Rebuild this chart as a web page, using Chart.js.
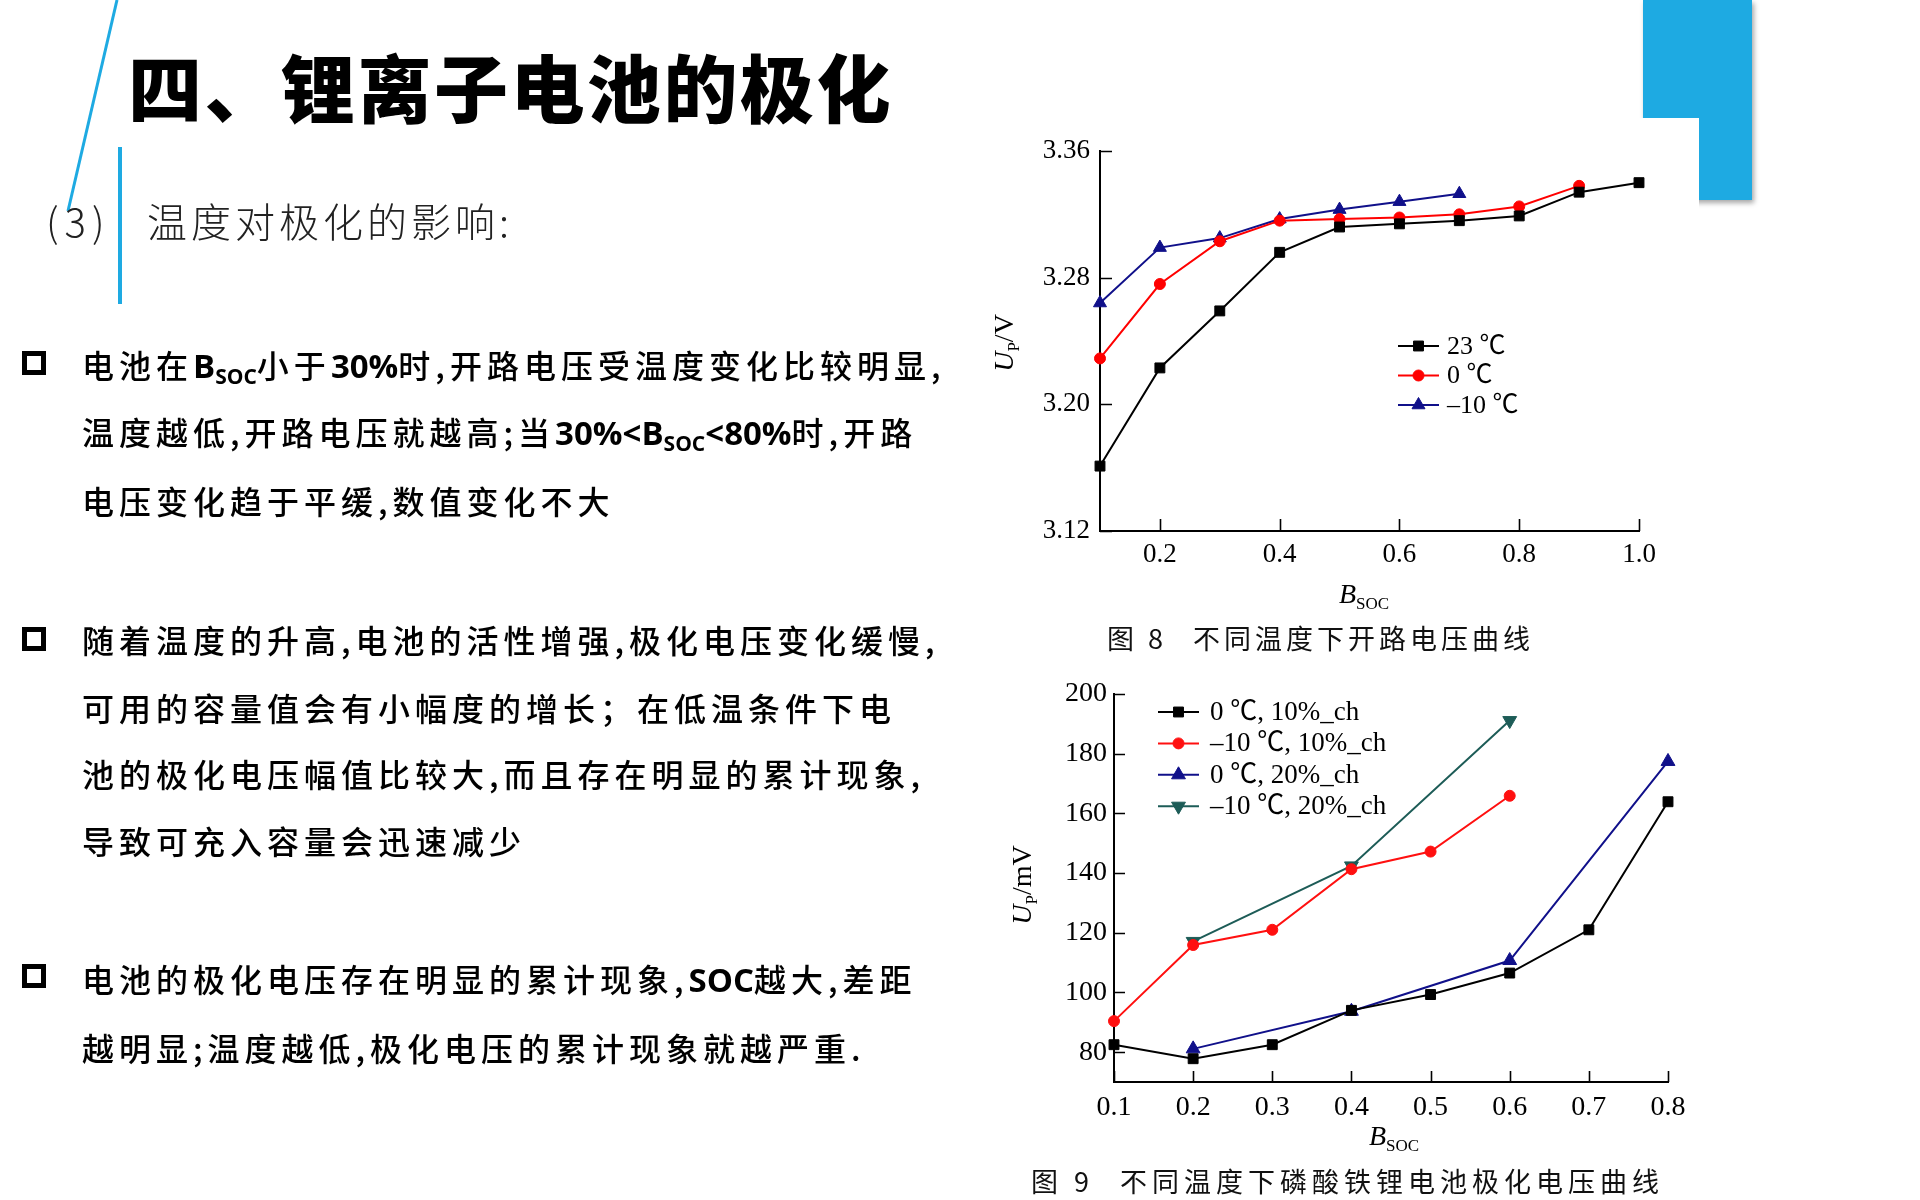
<!DOCTYPE html>
<html><head><meta charset="utf-8">
<script src="https://cdn.jsdelivr.net/npm/chart.js@4.4.1/dist/chart.umd.min.js"></script>
<style>
html,body{margin:0;padding:0;background:#fff;}
body{width:1920px;height:1200px;position:relative;overflow:hidden;font-family:"Noto Sans CJK SC",sans-serif;color:#000;}
.abs{position:absolute;white-space:nowrap;}
#blue{position:absolute;left:1643px;top:0;width:109px;height:200px;background:#1eaae2;box-shadow:2px 3px 5px rgba(0,0,0,0.35);}
canvas{position:absolute;background:#fff;}
#c1{left:1000px;top:118px;}
#c2{left:1000px;top:660px;}
.title{left:128px;top:85px;transform:translateY(-50%);font-size:74px;font-weight:900;letter-spacing:2.5px;line-height:80px;}
.sub{top:220px;transform:translateY(-50%);font-size:40px;font-weight:300;color:#222;line-height:48px;}
.box{position:absolute;left:22px;width:14px;height:14px;border:5px solid #000;background:#fff;}
.line{left:82px;font-size:32px;font-weight:500;letter-spacing:5px;line-height:40px;transform:translateY(-50%);}
.line b{font-family:"Open Sans","Lato",sans-serif;font-weight:700;letter-spacing:0;font-size:33px;}
.line b sub{font-size:21px;vertical-align:-6px;line-height:0;}
.serif{font-family:"Liberation Serif","Noto Sans CJK SC",serif;font-size:28px;line-height:32px;transform:translate(-50%,-50%);}
.serif sub{font-size:17px;vertical-align:-6px;line-height:0;}
.rot{transform:translate(-50%,-50%) rotate(-90deg);}
.cap{font-size:27px;letter-spacing:4px;line-height:34px;transform:translateY(-50%);color:#111;}
svg{position:absolute;left:0;top:0;}
</style>
</head>
<body>
<div id="blue"></div>
<canvas id="c1" width="699" height="462"></canvas>
<canvas id="c2" width="720" height="480"></canvas>

<svg width="1920" height="1200">
  <line x1="117" y1="0" x2="68" y2="211" stroke="#1eaae2" stroke-width="3"/>
  <line x1="120" y1="147" x2="120" y2="304" stroke="#1eaae2" stroke-width="4"/>
</svg>

<div class="abs title">四、锂离子电池的极化</div>
<div class="abs sub" style="left:46px;letter-spacing:6px;">(3)</div>
<div class="abs sub" style="left:147px;letter-spacing:4px;">温度对极化的影响:</div>

<div class="box" style="top:351px;"></div>
<div class="abs line" style="top:365px;">电池在<b>B<sub>SOC</sub></b>小于<b>30%</b>时,开路电压受温度变化比较明显,</div>
<div class="abs line" style="top:432px;">温度越低,开路电压就越高;当<b>30%&lt;B<sub>SOC</sub>&lt;80%</b>时,开路</div>
<div class="abs line" style="top:500px;">电压变化趋于平缓,数值变化不大</div>

<div class="box" style="top:627px;"></div>
<div class="abs line" style="top:639px;">随着温度的升高,电池的活性增强,极化电压变化缓慢,</div>
<div class="abs line" style="top:707px;">可用的容量值会有小幅度的增长；在低温条件下电</div>
<div class="abs line" style="top:773px;">池的极化电压幅值比较大,而且存在明显的累计现象,</div>
<div class="abs line" style="top:840px;">导致可充入容量会迅速减少</div>

<div class="box" style="top:964px;"></div>
<div class="abs line" style="top:979px;">电池的极化电压存在明显的累计现象,<b>SOC</b>越大,差距</div>
<div class="abs line" style="top:1047px;">越明显;温度越低,极化电压的累计现象就越严重.</div>

<!-- chart 1 texts -->
<div class="abs serif rot" style="left:1004px;top:343px;"><i>U</i><sub>P</sub>/V</div>
<div class="abs serif" style="left:1364px;top:594px;"><i>B</i><sub>SOC</sub></div>
<div class="abs cap" style="left:1107px;top:638px;">图 8</div>
<div class="abs cap" style="left:1193px;top:638px;">不同温度下开路电压曲线</div>

<!-- chart 2 texts -->
<div class="abs serif rot" style="left:1022px;top:885px;"><i>U</i><sub>P</sub>/mV</div>
<div class="abs serif" style="left:1394px;top:1136px;"><i>B</i><sub>SOC</sub></div>
<div class="abs cap" style="left:1031px;top:1181px;letter-spacing:5px;">图 9</div>
<div class="abs cap" style="left:1120px;top:1181px;letter-spacing:5px;">不同温度下磷酸铁锂电池极化电压曲线</div>

<script>
// ---------- DATA: chart 1 (open-circuit voltage) ----------
const soc1 = [0.1, 0.2, 0.3, 0.4, 0.5, 0.6, 0.7, 0.8, 0.9, 1.0];
const ocv23 = [3.161, 3.223, 3.259, 3.296, 3.312, 3.314, 3.316, 3.319, 3.334, 3.340];
const ocv0 = [3.229, 3.276, 3.303, 3.316, 3.317, 3.318, 3.320, 3.325, 3.338];
const ocvM10 = [3.264, 3.299, 3.305, 3.317, 3.323, 3.328, 3.333];
const names1 = ['23 ℃', '0 ℃', '\u201310 ℃'];
const xTicks1 = [0.2, 0.4, 0.6, 0.8, 1.0];
const yTicks1 = [3.12, 3.20, 3.28, 3.36];

// ---------- DATA: chart 2 (polarization voltage) ----------
const soc2 = [0.1, 0.2, 0.3, 0.4, 0.5, 0.6, 0.7, 0.8];
const up0c10 = [82.5, 77.8, 82.5, 94.0, 99.3, 106.5, 121.0, 163.9];
const upM10c10 = [90.4, 115.9, 121.0, 141.3, 147.2, 165.9];
const soc2b = [0.2, 0.4, 0.6, 0.8];
const up0c20 = [81.1, 93.7, 110.7, 177.4];
const soc2c = [0.2, 0.4, 0.6];
const upM10c20 = [117.1, 142.4, 191.1];
const names2 = ['0 ℃, 10%_ch', '\u201310 ℃, 10%_ch', '0 ℃, 20%_ch', '\u201310 ℃, 20%_ch'];
const xTicks2 = [0.1, 0.2, 0.3, 0.4, 0.5, 0.6, 0.7, 0.8];
const yTicks2 = [80, 100, 120, 140, 160, 180, 200];

// ---------- helpers ----------
const pts = (xs, ys) => ys.map((v, i) => ({x: xs[i], y: v}));

function drawMark(ctx, style, x, y, r, rot, color) {
  ctx.save();
  ctx.fillStyle = color; ctx.strokeStyle = color; ctx.lineWidth = 1;
  ctx.beginPath();
  if (style === 'rect') { const s = r * Math.SQRT1_2; ctx.rect(x - s, y - s, 2 * s, 2 * s); }
  else if (style === 'circle') { ctx.arc(x, y, r, 0, Math.PI * 2); }
  else if (style === 'triangle') {
    let a = (rot || 0) * Math.PI / 180;
    for (let k = 0; k < 3; k++) { const px = x + Math.sin(a) * r, py = y - Math.cos(a) * r; k ? ctx.lineTo(px, py) : ctx.moveTo(px, py); a += Math.PI * 2 / 3; }
  }
  ctx.closePath(); ctx.fill(); ctx.stroke();
  ctx.restore();
}

const innerTicks = {
  id: 'innerTicks',
  beforeDatasetsDraw(chart, args, o) {
    const ctx = chart.ctx, xs = chart.scales.x, ys = chart.scales.y;
    ctx.save(); ctx.strokeStyle = '#000'; ctx.lineWidth = 1.6; ctx.beginPath();
    ys.ticks.forEach(t => { const p = Math.round(ys.getPixelForValue(t.value)) + 0.5; ctx.moveTo(ys.right, p); ctx.lineTo(ys.right + o.len, p); });
    xs.ticks.forEach(t => { const p = Math.round(xs.getPixelForValue(t.value)) + 0.5; ctx.moveTo(p, xs.top); ctx.lineTo(p, xs.top - o.len); });
    ctx.stroke(); ctx.restore();
  }
};

const innerLegend = {
  id: 'innerLegend',
  afterDraw(chart, args, o) {
    const ctx = chart.ctx;
    chart.data.datasets.forEach((ds, i) => {
      const y = o.y + i * o.dy;
      ctx.save();
      ctx.strokeStyle = ds.borderColor; ctx.lineWidth = ds.borderWidth;
      ctx.beginPath(); ctx.moveTo(o.x, y); ctx.lineTo(o.x + o.w, y); ctx.stroke();
      ctx.restore();
      drawMark(ctx, ds.pointStyle, o.x + o.w / 2, y, ds.pointRadius, ds.pointRotation, ds.borderColor);
      ctx.save();
      ctx.fillStyle = '#000'; ctx.font = o.font; ctx.textBaseline = 'middle'; ctx.textAlign = 'left';
      ctx.fillText(ds.label, o.x + o.w + o.gap, y + 1);
      ctx.restore();
    });
  }
};

function ds(label, data, color, style, r, rot) {
  return {label, data, borderColor: color, backgroundColor: color, pointBackgroundColor: color,
    pointBorderColor: color, borderWidth: 2, pointStyle: style, pointRadius: r, pointHoverRadius: r,
    pointRotation: rot || 0, pointBorderWidth: 1, tension: 0, fill: false, clip: false};
}

function axis(min, max, ticks, dec, fitProp, fitVal, pad, size) {
  return {
    type: 'linear', min, max,
    afterBuildTicks: s => { s.ticks = ticks.map(v => ({value: v})); },
    afterFit: s => { s[fitProp] = fitVal; },
    grid: {display: false, drawTicks: false},
    border: {display: true, color: '#000', width: 2},
    ticks: {color: '#000', padding: pad, autoSkip: false, maxRotation: 0,
      font: {family: 'Liberation Serif', size: size},
      callback: v => Number(v).toFixed(dec)}
  };
}

const common = {
  responsive: false, animation: false, devicePixelRatio: 1,
  plugins: {legend: {display: false}, tooltip: {enabled: false}},
};

new Chart(document.getElementById('c1'), {
  type: 'line',
  data: {datasets: [
    ds(names1[0], pts(soc1, ocv23), '#000000', 'rect', 7),
    ds(names1[1], pts(soc1, ocv0), '#ff0000', 'circle', 5.5),
    ds(names1[2], pts(soc1, ocvM10), '#10108a', 'triangle', 7.5)
  ]},
  options: Object.assign({}, common, {
    layout: {padding: {top: 33, right: 60, bottom: 0, left: 0}},
    scales: {
      x: axis(0.1, 1.0, xTicks1, 1, 'height', 49, 8, 27),
      y: axis(3.12, 3.36, yTicks1, 2, 'width', 100, 10, 27)
    },
    plugins: Object.assign({}, common.plugins, {
      innerTicks: {len: 12},
      innerLegend: {x: 398, y: 228, dy: 29.5, w: 41, gap: 8, font: '26px "Liberation Serif", "Noto Sans CJK SC"'}
    })
  }),
  plugins: [innerTicks, innerLegend]
});

new Chart(document.getElementById('c2'), {
  type: 'line',
  data: {datasets: [
    ds(names2[0], pts(soc2, up0c10), '#000000', 'rect', 7),
    ds(names2[1], pts(soc2, upM10c10), '#ff1010', 'circle', 5.5),
    ds(names2[2], pts(soc2b, up0c20), '#10108a', 'triangle', 8),
    ds(names2[3], pts(soc2c, upM10c20), '#1d5c57', 'triangle', 8, 180)
  ]},
  options: Object.assign({}, common, {
    layout: {padding: {top: 34, right: 52, bottom: 0, left: 0}},
    scales: {
      x: axis(0.1, 0.8, xTicks2, 1, 'height', 58, 9, 28),
      y: axis(70, 200, yTicks2, 0, 'width', 114, 7, 28)
    },
    plugins: Object.assign({}, common.plugins, {
      innerTicks: {len: 11},
      innerLegend: {x: 158, y: 52, dy: 31.4, w: 41, gap: 11, font: '27px "Liberation Serif", "Noto Sans CJK SC"'}
    })
  }),
  plugins: [innerTicks, innerLegend]
});
</script>
</body></html>
